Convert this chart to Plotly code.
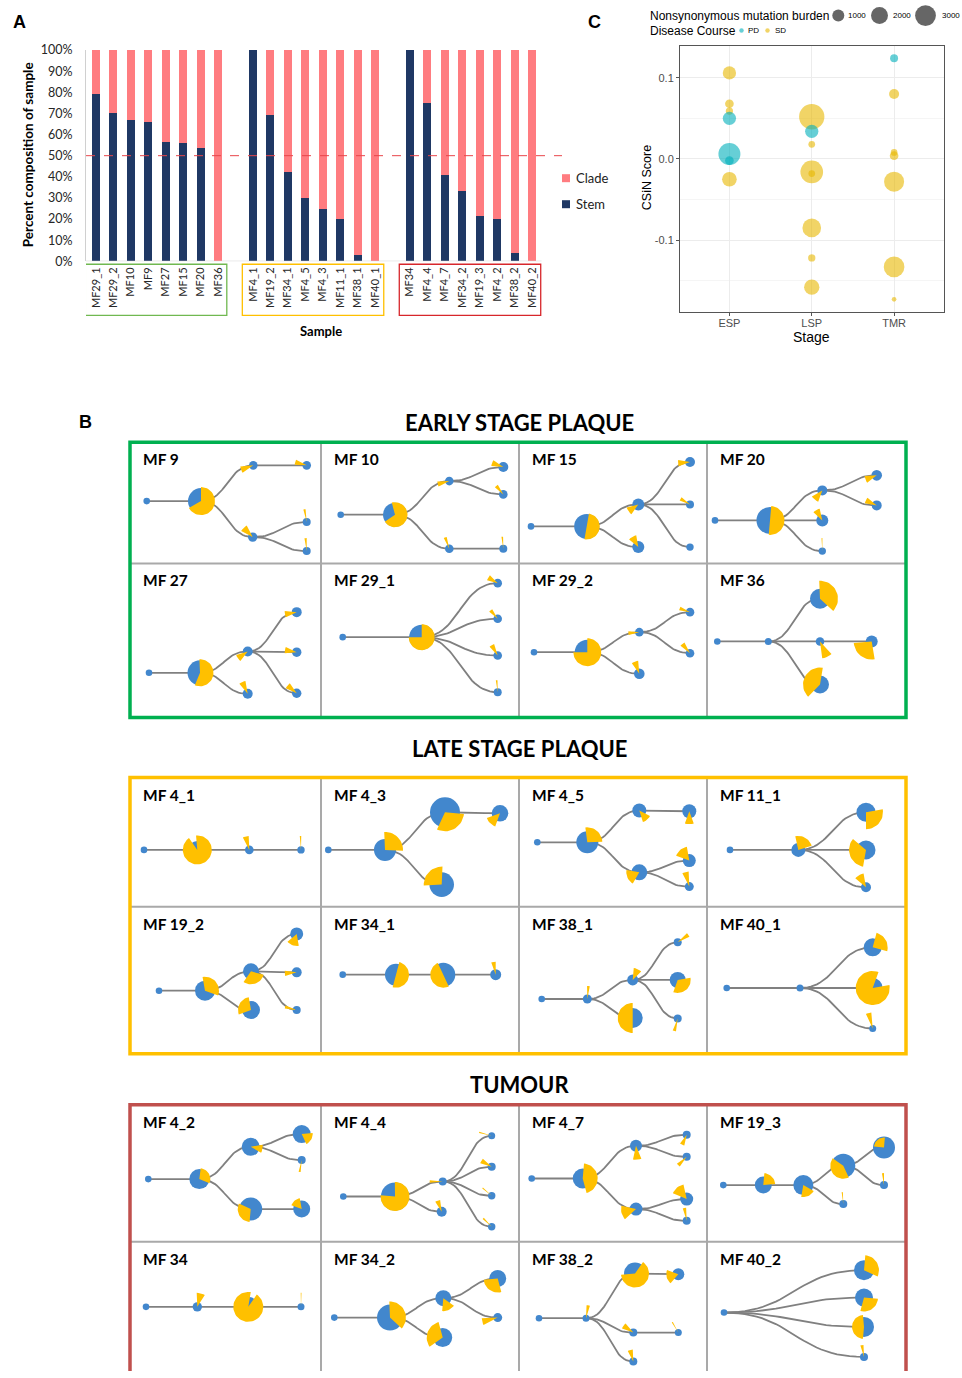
import numpy as np
import plotly.graph_objects as go

W, H = 962, 1378

# ---------------- Panel A data ----------------
SAMPLES_ESP = ["MF29_1", "MF29_2", "MF10", "MF9", "MF27", "MF15", "MF20", "MF36"]
SAMPLES_LSP = ["MF4_1", "MF19_2", "MF34_1", "MF4_5", "MF4_3", "MF11_1", "MF38_1", "MF40_1"]
SAMPLES_TMR = ["MF34", "MF4_4", "MF4_7", "MF34_2", "MF19_3", "MF4_2", "MF38_2", "MF40_2"]
STEM_ESP = [79, 70, 67, 66, 56.5, 56, 53.5, 0]
STEM_LSP = [100, 69, 42, 30, 24.5, 20, 3, 0]
STEM_TMR = [100, 75, 41, 33, 21.5, 20, 4, 0]
Y_TICKS_A = [0, 10, 20, 30, 40, 50, 60, 70, 80, 90, 100]
LEGEND_A = ["Clade", "Stem"]

# ---------------- Panel C data ----------------
STAGES = ["ESP", "LSP", "TMR"]
ESP_CSIN = [0.106, 0.068, 0.059, 0.050, 0.006, -0.002, -0.025]
ESP_BURDEN = [1230, 520, 370, 1230, 3360, 520, 1490]
ESP_COURSE = ["SD", "SD", "SD", "PD", "PD", "PD", "SD"]
LSP_CSIN = [0.052, 0.034, 0.018, -0.016, -0.018, -0.085, -0.122, -0.158]
LSP_BURDEN = [4450, 1230, 310, 3570, 310, 2420, 370, 1630]
LSP_COURSE = ["SD", "PD", "SD", "SD", "SD", "SD", "SD", "SD"]
TMR_CSIN = [0.124, 0.080, 0.008, 0.004, -0.028, -0.133, -0.173]
TMR_BURDEN = [440, 700, 310, 520, 2780, 2960, 150]
TMR_COURSE = ["PD", "SD", "SD", "SD", "SD", "SD", "SD"]
LEGEND_BURDEN = [1000, 2000, 3000]
COURSES = ["PD", "SD"]

# ---------------- Panel B data (cell-local px) ----------------
# node: (x, y, blue radius, yellow radius, yellow direction deg (clockwise from north), yellow span deg, parent)
MF9 = [(16.7, 58.7, 3.3, 0, 0, 0, -1), (71, 58.7, 13, 14, 120, 240, 0), (123.3, 23, 4.3, 13, 250, 30, 1),
       (176.7, 23, 4.3, 12, 285, 25, 2), (122.7, 94.7, 4.7, 13, 315, 35, 1), (176.7, 79.7, 4, 13, 350, 10, 4),
       (176.7, 108.7, 4, 13, 355, 10, 4)]
MF10 = [(19.7, 72.3, 3.3, 0, 0, 0, -1), (74, 72.3, 12, 12.5, 110, 250, 0), (128.3, 38.7, 4.3, 12, 255, 25, 1),
        (182.3, 24.7, 5, 12, 290, 30, 2), (182.3, 52, 4.3, 11, 320, 20, 2), (128.3, 106.3, 4.3, 12, 340, 15, 1),
        (182.3, 106.3, 4, 12, 355, 8, 5)]
MF15 = [(12, 84, 3.3, 0, 0, 0, -1), (67.7, 84, 12.5, 13, 100, 180, 0), (119.3, 62, 6, 12, 235, 40, 1),
        (171, 19.7, 5, 12, 265, 30, 2), (171, 62, 4, 11, 300, 20, 2), (171, 104.7, 3.7, 9, 315, 4, 2),
        (119.3, 104.7, 6, 12, 330, 40, 1)]
MF20 = [(8, 78, 3.3, 0, 0, 0, -1), (63, 78, 13.5, 14.5, 95, 180, 0), (115.3, 48, 5, 12, 220, 40, 1),
        (169.7, 33, 5.3, 12, 250, 35, 2), (169.7, 63, 5, 12, 295, 30, 2), (115.3, 78, 6, 12, 330, 35, 1),
        (115.3, 108.7, 3.7, 13, 358, 5, 1)]
MF27 = [(19, 109.3, 3.3, 0, 0, 0, -1), (70, 109.3, 12.5, 13.5, 100, 205, 0), (117.7, 88, 5, 12, 235, 35, 1),
        (166.7, 48.7, 5, 12, 260, 30, 2), (166.7, 88.7, 4.7, 12, 280, 30, 2), (166.7, 129.7, 4.7, 12, 310, 30, 2),
        (117.7, 130.3, 5, 13, 335, 30, 1)]
MF29_1 = [(21.7, 73.7, 3.3, 0, 0, 0, -1), (100.7, 73.7, 12.5, 13, 135, 270, 0), (176.7, 19.7, 4.3, 11, 300, 30, 1),
          (176.7, 55.3, 4.3, 11, 320, 20, 1), (176.7, 92, 4.3, 12, 330, 25, 1), (176.7, 128.7, 4, 12, 355, 8, 1)]
MF29_2 = [(15, 88.7, 3.3, 0, 0, 0, -1), (68.3, 88.7, 12.5, 14, 135, 270, 0), (120.3, 68.7, 4.3, 11, 265, 20, 1),
          (171, 48.7, 4.3, 11, 290, 20, 2), (171, 89.7, 4.3, 12, 320, 25, 2), (120.3, 110.3, 5.3, 13, 340, 30, 1)]
MF36 = [(10.3, 78, 3.3, 0, 0, 0, -1), (61.3, 78, 3.5, 0, 0, 0, 0), (113, 35.3, 10, 18, 65, 135, 1),
        (113, 78, 4.3, 17, 155, 35, 1), (164.7, 78, 6, 18, 218, 95, 3), (113, 121, 9, 17, 297, 145, 1)]
MF4_1 = [(14, 72.3, 3.3, 0, 0, 0, -1), (67.3, 72.3, 9, 14.5, 160, 330, 0), (119.3, 72.3, 4.3, 14, 345, 25, 1),
         (171, 72.3, 3.7, 14, 358, 6, 2)]
MF4_3 = [(7.3, 72.3, 3.3, 0, 0, 0, -1), (64, 72.3, 11, 18, 45, 95, 0), (124, 34.7, 15, 19, 150, 110, 1),
         (179, 35.7, 8.3, 14, 225, 50, 2), (120.7, 107, 12.3, 18, 315, 95, 1)]
MF19_2 = [(29, 84, 3.3, 0, 0, 0, -1), (75, 84, 10, 14, 50, 120, 0), (121, 64.7, 8, 13, 160, 110, 1),
          (166.7, 27.3, 6.5, 12, 200, 60, 2), (166.7, 65.7, 5, 12, 265, 25, 2), (166.7, 103.3, 4, 12, 285, 15, 2),
          (121, 103.3, 9, 13, 300, 100, 1)]
MF34_1 = [(21.7, 68, 3.3, 0, 0, 0, -1), (75, 68, 11, 13, 105, 180, 0), (122.3, 68, 12, 13, 245, 180, 1),
          (174.7, 68, 5.5, 13, 350, 20, 2)]
MF4_5 = [(18.3, 64.7, 3.3, 0, 0, 0, -1), (68.3, 64.7, 11, 15, 40, 95, 0), (120.3, 33, 7, 12, 140, 45, 1),
         (170.3, 33.7, 7, 13, 180, 40, 2), (120.3, 94.7, 8, 13, 245, 70, 1), (170.3, 83, 6.5, 14, 320, 60, 4),
         (170.3, 109, 4.5, 15, 345, 25, 4)]
MF11_1 = [(23, 72.3, 3.3, 0, 0, 0, -1), (91.3, 72.3, 7, 14, 30, 85, 0), (159, 34.7, 9.5, 17, 130, 100, 1),
          (159, 72.3, 9.5, 17, 250, 120, 1), (159, 109.7, 5, 14, 330, 40, 1)]
MF38_1 = [(22.7, 92.3, 3.3, 0, 0, 0, -1), (68.3, 92.3, 4.5, 13, 5, 12, 0), (113.7, 73.3, 5.5, 12, 25, 40, 1),
          (158.7, 35.7, 4, 13, 55, 20, 2), (158.7, 73.3, 8, 13, 140, 120, 2), (158.7, 111.7, 4, 13, 195, 15, 2),
          (113.7, 111.3, 10, 15, 270, 180, 1)]
MF40_1 = [(19.7, 81.3, 3.3, 0, 0, 0, -1), (93, 81.3, 3.5, 0, 0, 0, 0), (165.7, 40.7, 9, 15, 60, 90, 1),
          (165.7, 81.3, 10, 17, 230, 300, 1), (165.7, 121.7, 3.5, 16, 345, 20, 1)]
MF4_2 = [(18.3, 74.3, 3.3, 0, 0, 0, -1), (69.3, 74.3, 10, 11, 60, 105, 0), (120.7, 42, 9, 12, 100, 40, 1),
         (171.7, 29.3, 9, 11, 120, 70, 2), (171.7, 55.3, 4, 12, 190, 10, 2), (120.7, 104.3, 11.5, 13, 240, 110, 1),
         (171.7, 104.3, 8.5, 11, 320, 60, 5)]
MF4_4 = [(22.3, 91.7, 3.3, 0, 0, 0, -1), (74, 91.7, 14, 14.5, 137, 275, 0), (121.7, 76.7, 4, 13, 270, 12, 1),
         (120.7, 107, 5, 12, 340, 25, 1), (170.7, 31, 3.5, 13, 285, 5, 2), (170.7, 62, 4, 12, 300, 25, 2),
         (170.7, 91, 3.7, 12, 310, 6, 2), (170.7, 122, 3.7, 12, 315, 8, 2)]
MF4_7 = [(12.7, 73.7, 3.3, 0, 0, 0, -1), (63.7, 73.7, 10, 15, 85, 160, 0), (117, 41, 6, 14, 175, 35, 1),
         (167.7, 30, 4, 11, 205, 25, 2), (167.7, 52, 4, 12, 225, 20, 2), (117, 104.3, 6.5, 15, 255, 55, 1),
         (167.7, 94.3, 6.5, 15, 320, 55, 5), (167.7, 116, 4, 13, 350, 15, 5)]
MF19_3 = [(16.3, 80.3, 3.3, 0, 0, 0, -1), (56.3, 80.3, 8.5, 12, 45, 80, 0), (96.3, 80.3, 10, 12, 155, 70, 1),
          (136.3, 61, 12, 13, 230, 150, 2), (177, 42.7, 11, 10, 320, 90, 3), (177, 80.3, 4, 12, 355, 10, 3),
          (136.3, 99.3, 4, 12, 355, 6, 2)]
MF34 = [(16, 65, 3.3, 0, 0, 0, -1), (67.3, 65, 4.7, 14, 15, 35, 0), (118.3, 65, 10, 15, 202, 335, 1),
        (171, 65, 3.5, 14, 0, 4, 2)]
MF34_2 = [(13.3, 75.7, 3.3, 0, 0, 0, -1), (69, 75.7, 13, 16, 65, 135, 0), (122.3, 56.3, 8, 13, 155, 60, 1),
          (176.7, 36.7, 8.5, 14, 215, 100, 2), (176.7, 75.7, 4.5, 16, 255, 25, 2), (121.7, 95.7, 9.5, 16, 290, 110, 1)]
MF38_2 = [(20, 76.3, 3.3, 0, 0, 0, -1), (67, 76.3, 3.5, 13, 10, 15, 0), (116, 31.7, 11, 14, 150, 230, 1),
          (159.3, 32.3, 6, 12, 255, 70, 2), (114.3, 90.7, 4, 12, 305, 30, 1), (159.3, 90.7, 3.5, 12, 330, 6, 4),
          (114.3, 119.7, 4, 12, 345, 25, 1)]
MF40_2 = [(17, 70.7, 3.3, 0, 0, 0, -1), (157, 28.3, 10, 15, 60, 110, 0), (157, 55.7, 9, 14, 145, 100, 0),
          (157, 85, 10, 12, 270, 170, 0), (157, 115, 4, 12, 350, 15, 0)]

EARLY_NAMES = [["MF 9", "MF 10", "MF 15", "MF 20"], ["MF 27", "MF 29_1", "MF 29_2", "MF 36"]]
EARLY_TREES = [[MF9, MF10, MF15, MF20], [MF27, MF29_1, MF29_2, MF36]]
LATE_NAMES = [["MF 4_1", "MF 4_3", "MF 4_5", "MF 11_1"], ["MF 19_2", "MF 34_1", "MF 38_1", "MF 40_1"]]
LATE_TREES = [[MF4_1, MF4_3, MF4_5, MF11_1], [MF19_2, MF34_1, MF38_1, MF40_1]]
TUMOUR_NAMES = [["MF 4_2", "MF 4_4", "MF 4_7", "MF 19_3"], ["MF 34", "MF 34_2", "MF 38_2", "MF 40_2"]]
TUMOUR_TREES = [[MF4_2, MF4_4, MF4_7, MF19_3], [MF34, MF34_2, MF38_2, MF40_2]]
GROUP_TITLES = ["EARLY STAGE PLAQUE", "LATE STAGE PLAQUE", "TUMOUR"]

# ---------------- styles / layout ----------------
NAVY, PINK = "#1f3864", "#ff7c80"
PD_COL, SD_COL = "#00AFBB", "#E7B800"
NODE_BLUE, NODE_YEL, EDGE_COL = "#4287cd", "#ffc000", "#808080"
BOX_COLS = ["#00b050", "#ffc000", "#c0504d"]
ABOX_COLS = ["#70b850", "#ffc000", "#d7262b"]
COL_X = [130, 321, 519, 707, 906]
GROUP_ROWS = [[442, 563, 717], [777, 906, 1053], [1104, 1241, 1395]]
TITLE_Y = [422, 748, 1084]
FA = "Lato"
FC = "Liberation Sans"
SIZEREF = 1000 / 72.0
LEG_ROW1, LEG_ROW2 = 15.5, 30.5

# vertical placement: map reference-pixel rows to the rendered page
Y_SCL = 1378.0 / 1394.0
Y_OFF = 8.0 * Y_SCL


def fy(y):
    return (y - Y_OFF) / Y_SCL


def vdom(y_top, y_bot):
    return [1 - fy(y_bot) / H, 1 - fy(y_top) / H]


fig = go.Figure()

# ---------------- Panel A ----------------
pos_esp = list(range(0, 8))
pos_lsp = list(range(9, 17))
pos_tmr = list(range(18, 26))
xpos = pos_esp + pos_lsp + pos_tmr
names = SAMPLES_ESP + SAMPLES_LSP + SAMPLES_TMR
stem = STEM_ESP + STEM_LSP + STEM_TMR
clade = [100 - s for s in stem]

fig.add_trace(go.Bar(x=xpos, y=stem, width=0.46, marker=dict(color=NAVY, line_width=0),
                     name="Stem", showlegend=False, xaxis="x", yaxis="y"))
fig.add_trace(go.Bar(x=xpos, y=clade, width=0.46, marker=dict(color=PINK, line_width=0),
                     name="Clade", showlegend=False, xaxis="x", yaxis="y"))

SLOT0, SLOTW = 96.0, 17.44
xa_left = (86 - SLOT0) / SLOTW
xa_right = (562 - SLOT0) / SLOTW

shapes = []
shapes.append(dict(type="line", xref="x domain", yref="y", x0=0, x1=1, y0=50, y1=50,
                   line=dict(color="#e8454a", width=1, dash="dash")))
shapes.append(dict(type="line", xref="x", yref="y", x0=xa_left, x1=25.55, y0=0, y1=0,
                   line=dict(color="#d0d0d0", width=1.2)))
for (g0, g1), col in zip([(pos_esp[0], pos_esp[-1]), (pos_lsp[0], pos_lsp[-1]), (pos_tmr[0], pos_tmr[-1])], ABOX_COLS):
    shapes.append(dict(type="rect", xref="x", yref="y3", x0=g0 - 0.61, x1=g1 + 0.5, y0=264, y1=315,
                       line=dict(color=col, width=1.3)))

annotations = []


def txt(x, y, s, size, font=FA, bold=False, color="black", xanchor="center", yanchor="middle", angle=0):
    annotations.append(dict(x=x, y=y, xref="x3", yref="y3", text=("<b>%s</b>" % s) if bold else s,
                            showarrow=False, xanchor=xanchor, yanchor=yanchor, textangle=angle,
                            font=dict(family=font, size=size, color=color)))


# Panel A legend (keys drawn as square markers)
fig.add_trace(go.Scatter(x=[566, 566], y=[178, 204], mode="markers",
                         marker=dict(symbol="square", size=8, color=[PINK, NAVY], opacity=1, line_width=0),
                         showlegend=False, hoverinfo="skip", xaxis="x3", yaxis="y3"))
for lab, yy_ in zip(LEGEND_A, [178, 204]):
    txt(574, yy_, lab, 13, color="#222", xanchor="left")

# ---------------- Panel C ----------------
c_x, c_y, c_b, c_c = [], [], [], []
for i, (cs, bu, co) in enumerate([(ESP_CSIN, ESP_BURDEN, ESP_COURSE), (LSP_CSIN, LSP_BURDEN, LSP_COURSE),
                                  (TMR_CSIN, TMR_BURDEN, TMR_COURSE)]):
    c_x += [i] * len(cs)
    c_y += cs
    c_b += bu
    c_c += co
for course, col in [("SD", SD_COL), ("PD", PD_COL)]:
    idx = [k for k in range(len(c_x)) if c_c[k] == course]
    fig.add_trace(go.Scatter(x=[c_x[k] for k in idx], y=[c_y[k] for k in idx], mode="markers",
                             marker=dict(size=[c_b[k] for k in idx], sizemode="area", sizeref=SIZEREF,
                                         color=col, opacity=0.6, line_width=0),
                             showlegend=False, xaxis="x2", yaxis="y2"))

# Panel C legend keys (pixel overlay)
fig.add_trace(go.Scatter(x=[838.3, 879.5, 925.5], y=[LEG_ROW1] * 3, mode="markers",
                         marker=dict(size=LEGEND_BURDEN, sizemode="area", sizeref=SIZEREF, color="black",
                                     opacity=0.6, line_width=0), cliponaxis=False,
                         showlegend=False, hoverinfo="skip", xaxis="x3", yaxis="y3"))
fig.add_trace(go.Scatter(x=[741.5, 767.5], y=[LEG_ROW2] * 2, mode="markers",
                         marker=dict(size=4.5, color=[PD_COL, SD_COL], opacity=0.6, line_width=0),
                         showlegend=False, hoverinfo="skip", xaxis="x3", yaxis="y3"))

for lab, xx in zip(LEGEND_BURDEN, [846, 891, 940]):
    txt(xx, LEG_ROW1, str(lab), 8, font=FC, xanchor="left")
for lab, xx in zip(COURSES, [745.5, 772.5]):
    txt(xx, LEG_ROW2, lab, 8, font=FC, xanchor="left")
txt(648, LEG_ROW1, "Nonsynonymous mutation burden", 12, font=FC, xanchor="left")
txt(648, LEG_ROW2, "Disease Course", 12, font=FC, xanchor="left")
txt(647, 178, "CSiN Score", 12.5, font=FC, angle=-90)
txt(811, 336.5, "Stage", 14, font=FC)

# Panel letters / A titles
txt(19, 22, "A", 18, font=FC, bold=True)
txt(594, 22, "C", 18, font=FC, bold=True)
txt(85, 422, "B", 18, font=FC, bold=True)
txt(28, 155, "Percent composition of sample", 13.5, bold=True, angle=-90)
txt(321, 331, "Sample", 13, bold=True)

# ---------------- Panel B ----------------
def bez(p, c, n=28):
    x0, y0 = p
    x1, y1 = c
    t = np.linspace(0, 1, n)
    xm = (x0 + x1) / 2.0
    bx = (1 - t) ** 3 * x0 + 3 * (1 - t) ** 2 * t * xm + 3 * (1 - t) * t ** 2 * xm + t ** 3 * x1
    by = (1 - t) ** 3 * y0 + 3 * (1 - t) ** 2 * t * y0 + 3 * (1 - t) * t ** 2 * y1 + t ** 3 * y1
    return list(bx), list(by)


ex, ey, bxs, bys, bsz, yx, yy = [], [], [], [], [], [], []
for g, (names_g, trees_g, rows, bcol, ttl, ty) in enumerate(zip(
        [EARLY_NAMES, LATE_NAMES, TUMOUR_NAMES], [EARLY_TREES, LATE_TREES, TUMOUR_TREES],
        GROUP_ROWS, BOX_COLS, GROUP_TITLES, TITLE_Y)):
    txt(519, ty, ttl, 22, bold=True)
    for r in range(2):
        for c in range(4):
            ox, oy = COL_X[c], rows[r]
            txt(ox + 11, oy + 17, names_g[r][c], 15.5, bold=True, xanchor="left")
            nodes = trees_g[r][c]
            for (x, y, rb, ry, d, s, par) in nodes:
                X, Y = ox + x, oy + y
                if par >= 0:
                    px, py = ox + nodes[par][0], oy + nodes[par][1]
                    cx_, cy_ = bez((px, py), (X, Y))
                    ex += cx_ + [None]
                    ey += cy_ + [None]
                bxs.append(X)
                bys.append(Y)
                bsz.append(2 * rb)
                if ry > 0 and s > 0:
                    a = np.radians(np.linspace(d - s / 2.0, d + s / 2.0, max(6, int(s / 6))))
                    yx += [X] + list(X + ry * np.sin(a)) + [X, None]
                    yy += [Y] + list(Y - ry * np.cos(a)) + [Y, None]
    for c in range(1, 4):
        shapes.append(dict(type="line", xref="x3", yref="y3", x0=COL_X[c], x1=COL_X[c], y0=rows[0], y1=rows[2],
                           line=dict(color="#a9a9a9", width=2)))
    shapes.append(dict(type="line", xref="x3", yref="y3", x0=COL_X[0], x1=COL_X[4], y0=rows[1], y1=rows[1],
                       line=dict(color="#a9a9a9", width=2)))
    shapes.append(dict(type="rect", xref="x3", yref="y3", x0=COL_X[0], x1=COL_X[4], y0=rows[0], y1=rows[2],
                       line=dict(color=bcol, width=3.5)))

fig.add_trace(go.Scatter(x=ex, y=ey, mode="lines", line=dict(color=EDGE_COL, width=1.8), hoverinfo="skip",
                         showlegend=False, xaxis="x3", yaxis="y3"))
fig.add_trace(go.Scatter(x=bxs, y=bys, mode="markers",
                         marker=dict(size=bsz, color=NODE_BLUE, opacity=1, line_width=0),
                         hoverinfo="skip", showlegend=False, xaxis="x3", yaxis="y3"))
fig.add_trace(go.Scatter(x=yx, y=yy, mode="lines", fill="toself", fillcolor=NODE_YEL, line=dict(width=0),
                         hoverinfo="skip", showlegend=False, xaxis="x3", yaxis="y3"))

fig.update_layout(
    width=W, height=H, margin=dict(l=0, r=0, t=0, b=0), autosize=False,
    paper_bgcolor="white", plot_bgcolor="rgba(0,0,0,0)", barmode="stack", bargap=0,
    shapes=shapes, annotations=annotations, showlegend=False,
    xaxis=dict(domain=[86 / W, 562 / W], range=[xa_left, xa_right], tickmode="array", tickvals=xpos,
               ticktext=names, tickangle=-90, tickfont=dict(family=FA, size=11, color="#262626"),
               showgrid=False, zeroline=False, showline=False, ticks="", ticklabelstandoff=3, anchor="y"),
    yaxis=dict(domain=vdom(50, 261), range=[0, 100], tickmode="array", tickvals=Y_TICKS_A,
               ticktext=["%d%%" % v for v in Y_TICKS_A], tickfont=dict(family=FA, size=12.5, color="#262626"),
               showgrid=False, zeroline=False, showline=True, linecolor="#d0d0d0", linewidth=1, ticks="",
               ticklabelstandoff=10, anchor="x"),
    xaxis2=dict(domain=[680 / W, 943.5 / W], range=[-0.6, 2.6], tickmode="array", tickvals=[0, 1, 2],
                ticktext=STAGES, tickfont=dict(family=FC, size=11, color="#4d4d4d"), showgrid=True,
                gridcolor="#ececec", gridwidth=1, zeroline=False, showline=True, mirror=True,
                linecolor="#555555", linewidth=1, ticks="outside", ticklen=3, tickcolor="#555555",
                ticklabelstandoff=-2, anchor="y2"),
    yaxis2=dict(domain=vdom(46, 311.5), range=[-0.1883, 0.139], tickmode="array",
                tickvals=[-0.1, 0.0, 0.1], ticktext=["-0.1", "0.0", "0.1"],
                tickfont=dict(family=FC, size=11, color="#4d4d4d"), showgrid=True, gridcolor="#ececec",
                gridwidth=1, zeroline=False, showline=True, mirror=True, linecolor="#555555", linewidth=1,
                ticks="outside", ticklen=3, tickcolor="#555555",
                minor=dict(tickvals=[-0.15, -0.05, 0.05], showgrid=True, gridcolor="#f5f5f5", ticks=""),
                anchor="x2"),
    xaxis3=dict(domain=[0, 1], range=[0, W], visible=False, fixedrange=True, anchor="y3"),
    yaxis3=dict(domain=[0, 1], range=[Y_OFF + Y_SCL * H, Y_OFF], visible=False, fixedrange=True, anchor="x3"),
)

fig.write_html("out.html", config={"displayModeBar": False},
               post_script="}); document.body.style.margin='0'; document.documentElement.style.overflow='hidden'; (function(){")
